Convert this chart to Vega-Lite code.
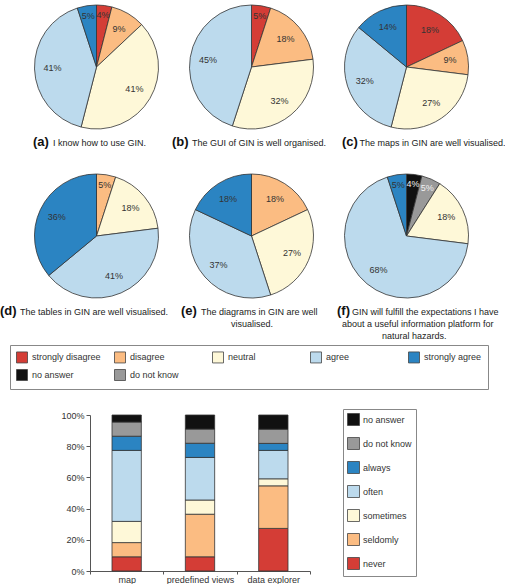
{
  "$schema": "https://vega.github.io/schema/vega-lite/v6.json",
  "padding": {"left": 0, "top": 3, "right": 0, "bottom": 0},
  "autosize": {"type": "pad"},
  "config": {
    "font": "Liberation Sans",
    "view": {"stroke": null},
    "title": {
      "orient": "bottom", "anchor": "start", "frame": "group",
      "fontSize": 13, "fontWeight": "bold", "color": "#111",
      "subtitleFontSize": 9, "subtitleColor": "#222", "subtitlePadding": -10,
      "subtitleLineHeight": 12, "offset": 5
    }
  },
  "datasets": {
    "pies": [
      {"q": "a", "answer": "strongly disagree", "p": 0.04, "k": 2},
      {"q": "a", "answer": "disagree", "p": 0.09, "k": 3},
      {"q": "a", "answer": "neutral", "p": 0.41, "k": 4},
      {"q": "a", "answer": "agree", "p": 0.41, "k": 5},
      {"q": "a", "answer": "strongly agree", "p": 0.05, "k": 6},
      {"q": "b", "answer": "strongly disagree", "p": 0.05, "k": 2},
      {"q": "b", "answer": "disagree", "p": 0.18, "k": 3},
      {"q": "b", "answer": "neutral", "p": 0.32, "k": 4},
      {"q": "b", "answer": "agree", "p": 0.45, "k": 5},
      {"q": "c", "answer": "strongly disagree", "p": 0.18, "k": 2},
      {"q": "c", "answer": "disagree", "p": 0.09, "k": 3},
      {"q": "c", "answer": "neutral", "p": 0.27, "k": 4},
      {"q": "c", "answer": "agree", "p": 0.32, "k": 5},
      {"q": "c", "answer": "strongly agree", "p": 0.14, "k": 6},
      {"q": "d", "answer": "disagree", "p": 0.05, "k": 3},
      {"q": "d", "answer": "neutral", "p": 0.18, "k": 4},
      {"q": "d", "answer": "agree", "p": 0.41, "k": 5},
      {"q": "d", "answer": "strongly agree", "p": 0.36, "k": 6},
      {"q": "e", "answer": "disagree", "p": 0.18, "k": 3},
      {"q": "e", "answer": "neutral", "p": 0.27, "k": 4},
      {"q": "e", "answer": "agree", "p": 0.37, "k": 5},
      {"q": "e", "answer": "strongly agree", "p": 0.18, "k": 6},
      {"q": "f", "answer": "no answer", "p": 0.04, "k": 0},
      {"q": "f", "answer": "do not know", "p": 0.05, "k": 1},
      {"q": "f", "answer": "neutral", "p": 0.18, "k": 4},
      {"q": "f", "answer": "agree", "p": 0.68, "k": 5},
      {"q": "f", "answer": "strongly agree", "p": 0.05, "k": 6}
    ],
    "bars": [
      {"tool": "map", "freq": "never", "pct": 9.1, "k": 0},
      {"tool": "map", "freq": "seldomly", "pct": 9.1, "k": 1},
      {"tool": "map", "freq": "sometimes", "pct": 13.6, "k": 2},
      {"tool": "map", "freq": "often", "pct": 45.5, "k": 3},
      {"tool": "map", "freq": "always", "pct": 9.1, "k": 4},
      {"tool": "map", "freq": "do not know", "pct": 9.1, "k": 5},
      {"tool": "map", "freq": "no answer", "pct": 4.5, "k": 6},
      {"tool": "predefined views", "freq": "never", "pct": 9.1, "k": 0},
      {"tool": "predefined views", "freq": "seldomly", "pct": 27.3, "k": 1},
      {"tool": "predefined views", "freq": "sometimes", "pct": 9.1, "k": 2},
      {"tool": "predefined views", "freq": "often", "pct": 27.3, "k": 3},
      {"tool": "predefined views", "freq": "always", "pct": 9.1, "k": 4},
      {"tool": "predefined views", "freq": "do not know", "pct": 9.1, "k": 5},
      {"tool": "predefined views", "freq": "no answer", "pct": 9.0, "k": 6},
      {"tool": "data explorer", "freq": "never", "pct": 27.3, "k": 0},
      {"tool": "data explorer", "freq": "seldomly", "pct": 27.3, "k": 1},
      {"tool": "data explorer", "freq": "sometimes", "pct": 4.5, "k": 2},
      {"tool": "data explorer", "freq": "often", "pct": 18.2, "k": 3},
      {"tool": "data explorer", "freq": "always", "pct": 4.5, "k": 4},
      {"tool": "data explorer", "freq": "do not know", "pct": 9.1, "k": 5},
      {"tool": "data explorer", "freq": "no answer", "pct": 9.1, "k": 6}
    ]
  },
  "vconcat": [
    {
      "vconcat": [
        {
          "hconcat": [
            {
              "width": 155, "height": 124,
              "data": {"name": "pies"},
              "transform": [{"filter": "datum.q == 'a'"}],
              "title": {"text": "(a)", "subtitle": "\u200b\u00a0\u00a0\u00a0\u00a0\u00a0\u00a0\u00a0\u00a0I know how to use GIN.", "dx": 14},
              "encoding": {
                "theta": {"field": "p", "type": "quantitative", "stack": true},
                "order": {"field": "k", "type": "quantitative"},
                "color": {"field": "answer", "type": "nominal",
                  "scale": {"domain": ["strongly disagree", "disagree", "neutral", "agree", "strongly agree", "no answer", "do not know"], "range": ["#d43d36", "#fbbc82", "#fef8d8", "#bcdaed", "#2b84c2", "#111111", "#999999"]},
                  "legend": {"orient": "none", "legendX": -9, "legendY": 340, "direction": "horizontal", "columns": 5, "gridAlign": "all", "columnPadding": 11, "rowPadding": 2, "title": null, "symbolType": "square", "symbolSize": 121, "symbolStrokeColor": "#444", "symbolStrokeWidth": 0.8, "padding": 6, "strokeColor": "#888", "labelFontSize": 9, "labelColor": "#333", "labelOffset": 4}}
              },
              "layer": [
                {"mark": {"type": "arc", "outerRadius": 62, "stroke": "#333", "strokeWidth": 0.8}},
                {"mark": {"type": "text", "radius": 44, "fontSize": 9},
                 "encoding": {"text": {"condition": {"test": "datum.p > 0.055", "field": "p", "type": "quantitative", "format": ".0%"}, "value": ""},
                   "color": {"condition": {"test": "datum.answer == 'no answer' || datum.answer == 'do not know'", "value": "#f2f2f2"}, "value": "#333"}}},
                {"mark": {"type": "text", "radius": 52, "fontSize": 9},
                 "encoding": {"text": {"condition": {"test": "datum.p <= 0.055", "field": "p", "type": "quantitative", "format": ".0%"}, "value": ""},
                   "color": {"condition": {"test": "datum.answer == 'no answer' || datum.answer == 'do not know'", "value": "#f2f2f2"}, "value": "#333"}}}
              ]
            },
            {
              "width": 155, "height": 124,
              "data": {"name": "pies"},
              "transform": [{"filter": "datum.q == 'b'"}],
              "title": {"text": "(b)", "subtitle": "\u200b\u00a0\u00a0\u00a0\u00a0\u00a0\u00a0\u00a0\u00a0The GUI of GIN is well organised.", "dx": -2},
              "encoding": {
                "theta": {"field": "p", "type": "quantitative", "stack": true},
                "order": {"field": "k", "type": "quantitative"},
                "color": {"field": "answer", "type": "nominal",
                  "scale": {"domain": ["strongly disagree", "disagree", "neutral", "agree", "strongly agree", "no answer", "do not know"], "range": ["#d43d36", "#fbbc82", "#fef8d8", "#bcdaed", "#2b84c2", "#111111", "#999999"]},
                  "legend": {"orient": "none", "legendX": -9, "legendY": 340, "direction": "horizontal", "columns": 5, "gridAlign": "all", "columnPadding": 11, "rowPadding": 2, "title": null, "symbolType": "square", "symbolSize": 121, "symbolStrokeColor": "#444", "symbolStrokeWidth": 0.8, "padding": 6, "strokeColor": "#888", "labelFontSize": 9, "labelColor": "#333", "labelOffset": 4}}
              },
              "layer": [
                {"mark": {"type": "arc", "outerRadius": 62, "stroke": "#333", "strokeWidth": 0.8}},
                {"mark": {"type": "text", "radius": 44, "fontSize": 9},
                 "encoding": {"text": {"condition": {"test": "datum.p > 0.055", "field": "p", "type": "quantitative", "format": ".0%"}, "value": ""},
                   "color": {"condition": {"test": "datum.answer == 'no answer' || datum.answer == 'do not know'", "value": "#f2f2f2"}, "value": "#333"}}},
                {"mark": {"type": "text", "radius": 52, "fontSize": 9},
                 "encoding": {"text": {"condition": {"test": "datum.p <= 0.055", "field": "p", "type": "quantitative", "format": ".0%"}, "value": ""},
                   "color": {"condition": {"test": "datum.answer == 'no answer' || datum.answer == 'do not know'", "value": "#f2f2f2"}, "value": "#333"}}}
              ]
            },
            {
              "width": 155, "height": 124,
              "data": {"name": "pies"},
              "transform": [{"filter": "datum.q == 'c'"}],
              "title": {"text": "(c)", "subtitle": "\u200b\u00a0\u00a0\u00a0\u00a0\u00a0\u00a0\u00a0The maps in GIN are well visualised.", "dx": 13},
              "encoding": {
                "theta": {"field": "p", "type": "quantitative", "stack": true},
                "order": {"field": "k", "type": "quantitative"},
                "color": {"field": "answer", "type": "nominal",
                  "scale": {"domain": ["strongly disagree", "disagree", "neutral", "agree", "strongly agree", "no answer", "do not know"], "range": ["#d43d36", "#fbbc82", "#fef8d8", "#bcdaed", "#2b84c2", "#111111", "#999999"]},
                  "legend": {"orient": "none", "legendX": -9, "legendY": 340, "direction": "horizontal", "columns": 5, "gridAlign": "all", "columnPadding": 11, "rowPadding": 2, "title": null, "symbolType": "square", "symbolSize": 121, "symbolStrokeColor": "#444", "symbolStrokeWidth": 0.8, "padding": 6, "strokeColor": "#888", "labelFontSize": 9, "labelColor": "#333", "labelOffset": 4}}
              },
              "layer": [
                {"mark": {"type": "arc", "outerRadius": 62, "stroke": "#333", "strokeWidth": 0.8}},
                {"mark": {"type": "text", "radius": 44, "fontSize": 9},
                 "encoding": {"text": {"condition": {"test": "datum.p > 0.055", "field": "p", "type": "quantitative", "format": ".0%"}, "value": ""},
                   "color": {"condition": {"test": "datum.answer == 'no answer' || datum.answer == 'do not know'", "value": "#f2f2f2"}, "value": "#333"}}},
                {"mark": {"type": "text", "radius": 52, "fontSize": 9},
                 "encoding": {"text": {"condition": {"test": "datum.p <= 0.055", "field": "p", "type": "quantitative", "format": ".0%"}, "value": ""},
                   "color": {"condition": {"test": "datum.answer == 'no answer' || datum.answer == 'do not know'", "value": "#f2f2f2"}, "value": "#333"}}}
              ]
            }
          ],
          "spacing": 0, "bounds": "flush"
        },
        {
          "hconcat": [
            {
              "width": 155, "height": 124,
              "data": {"name": "pies"},
              "transform": [{"filter": "datum.q == 'd'"}],
              "title": {"text": "(d)", "subtitle": "\u200b\u00a0\u00a0\u00a0\u00a0\u00a0\u00a0\u00a0\u00a0The tables in GIN are well visualised.", "dx": -19},
              "encoding": {
                "theta": {"field": "p", "type": "quantitative", "stack": true},
                "order": {"field": "k", "type": "quantitative"},
                "color": {"field": "answer", "type": "nominal",
                  "scale": {"domain": ["strongly disagree", "disagree", "neutral", "agree", "strongly agree", "no answer", "do not know"], "range": ["#d43d36", "#fbbc82", "#fef8d8", "#bcdaed", "#2b84c2", "#111111", "#999999"]},
                  "legend": {"orient": "none", "legendX": -9, "legendY": 340, "direction": "horizontal", "columns": 5, "gridAlign": "all", "columnPadding": 11, "rowPadding": 2, "title": null, "symbolType": "square", "symbolSize": 121, "symbolStrokeColor": "#444", "symbolStrokeWidth": 0.8, "padding": 6, "strokeColor": "#888", "labelFontSize": 9, "labelColor": "#333", "labelOffset": 4}}
              },
              "layer": [
                {"mark": {"type": "arc", "outerRadius": 62, "stroke": "#333", "strokeWidth": 0.8}},
                {"mark": {"type": "text", "radius": 44, "fontSize": 9},
                 "encoding": {"text": {"condition": {"test": "datum.p > 0.055", "field": "p", "type": "quantitative", "format": ".0%"}, "value": ""},
                   "color": {"condition": {"test": "datum.answer == 'no answer' || datum.answer == 'do not know'", "value": "#f2f2f2"}, "value": "#333"}}},
                {"mark": {"type": "text", "radius": 52, "fontSize": 9},
                 "encoding": {"text": {"condition": {"test": "datum.p <= 0.055", "field": "p", "type": "quantitative", "format": ".0%"}, "value": ""},
                   "color": {"condition": {"test": "datum.answer == 'no answer' || datum.answer == 'do not know'", "value": "#f2f2f2"}, "value": "#333"}}}
              ]
            },
            {
              "width": 155, "height": 124,
              "data": {"name": "pies"},
              "transform": [{"filter": "datum.q == 'e'"}],
              "title": {"text": "(e)", "subtitle": ["\u200b\u00a0\u00a0\u00a0\u00a0\u00a0\u00a0\u00a0\u00a0The diagrams in GIN are well", "\u200b\u00a0\u00a0\u00a0\u00a0\u00a0\u00a0\u00a0\u00a0\u00a0\u00a0\u00a0\u00a0\u00a0\u00a0\u00a0\u00a0\u00a0\u00a0\u00a0\u00a0visualised."], "dx": 7},
              "encoding": {
                "theta": {"field": "p", "type": "quantitative", "stack": true},
                "order": {"field": "k", "type": "quantitative"},
                "color": {"field": "answer", "type": "nominal",
                  "scale": {"domain": ["strongly disagree", "disagree", "neutral", "agree", "strongly agree", "no answer", "do not know"], "range": ["#d43d36", "#fbbc82", "#fef8d8", "#bcdaed", "#2b84c2", "#111111", "#999999"]},
                  "legend": {"orient": "none", "legendX": -9, "legendY": 340, "direction": "horizontal", "columns": 5, "gridAlign": "all", "columnPadding": 11, "rowPadding": 2, "title": null, "symbolType": "square", "symbolSize": 121, "symbolStrokeColor": "#444", "symbolStrokeWidth": 0.8, "padding": 6, "strokeColor": "#888", "labelFontSize": 9, "labelColor": "#333", "labelOffset": 4}}
              },
              "layer": [
                {"mark": {"type": "arc", "outerRadius": 62, "stroke": "#333", "strokeWidth": 0.8}},
                {"mark": {"type": "text", "radius": 44, "fontSize": 9},
                 "encoding": {"text": {"condition": {"test": "datum.p > 0.055", "field": "p", "type": "quantitative", "format": ".0%"}, "value": ""},
                   "color": {"condition": {"test": "datum.answer == 'no answer' || datum.answer == 'do not know'", "value": "#f2f2f2"}, "value": "#333"}}},
                {"mark": {"type": "text", "radius": 52, "fontSize": 9},
                 "encoding": {"text": {"condition": {"test": "datum.p <= 0.055", "field": "p", "type": "quantitative", "format": ".0%"}, "value": ""},
                   "color": {"condition": {"test": "datum.answer == 'no answer' || datum.answer == 'do not know'", "value": "#f2f2f2"}, "value": "#333"}}}
              ]
            },
            {
              "width": 155, "height": 124,
              "data": {"name": "pies"},
              "transform": [{"filter": "datum.q == 'f'"}],
              "title": {"text": "(f)", "subtitle": ["\u200b\u00a0\u00a0\u00a0\u00a0\u00a0\u00a0GIN will fulfill the expectations I have", "\u200b\u00a0\u00a0about a useful information platform for", "\u200b\u00a0\u00a0\u00a0\u00a0\u00a0\u00a0\u00a0\u00a0\u00a0\u00a0\u00a0\u00a0\u00a0\u00a0\u00a0\u00a0\u00a0\u00a0natural hazards."], "dx": 8},
              "encoding": {
                "theta": {"field": "p", "type": "quantitative", "stack": true},
                "order": {"field": "k", "type": "quantitative"},
                "color": {"field": "answer", "type": "nominal",
                  "scale": {"domain": ["strongly disagree", "disagree", "neutral", "agree", "strongly agree", "no answer", "do not know"], "range": ["#d43d36", "#fbbc82", "#fef8d8", "#bcdaed", "#2b84c2", "#111111", "#999999"]},
                  "legend": {"orient": "none", "legendX": -9, "legendY": 340, "direction": "horizontal", "columns": 5, "gridAlign": "all", "columnPadding": 11, "rowPadding": 2, "title": null, "symbolType": "square", "symbolSize": 121, "symbolStrokeColor": "#444", "symbolStrokeWidth": 0.8, "padding": 6, "strokeColor": "#888", "labelFontSize": 9, "labelColor": "#333", "labelOffset": 4}}
              },
              "layer": [
                {"mark": {"type": "arc", "outerRadius": 62, "stroke": "#333", "strokeWidth": 0.8}},
                {"mark": {"type": "text", "radius": 44, "fontSize": 9},
                 "encoding": {"text": {"condition": {"test": "datum.p > 0.055", "field": "p", "type": "quantitative", "format": ".0%"}, "value": ""},
                   "color": {"condition": {"test": "datum.answer == 'no answer' || datum.answer == 'do not know'", "value": "#f2f2f2"}, "value": "#333"}}},
                {"mark": {"type": "text", "radius": 52, "fontSize": 9},
                 "encoding": {"text": {"condition": {"test": "datum.p <= 0.055", "field": "p", "type": "quantitative", "format": ".0%"}, "value": ""},
                   "color": {"condition": {"test": "datum.answer == 'no answer' || datum.answer == 'do not know'", "value": "#f2f2f2"}, "value": "#333"}}}
              ]
            }
          ],
          "spacing": 0, "bounds": "flush"
        }
      ],
      "spacing": 23, "bounds": "full"
    },
    {
      "width": 291, "height": 156,
      "data": {"name": "bars"},
      "mark": {"type": "bar", "width": {"band": 0.4}, "stroke": "#333", "strokeWidth": 0.8},
      "encoding": {
        "x": {"field": "tool", "type": "nominal", "sort": ["map", "predefined views", "data explorer"],
          "scale": {"paddingInner": 0, "paddingOuter": 0, "range": [71, 291]},
          "axis": {"title": null, "labelAngle": 0, "tickBand": "extent", "tickSize": 3, "labelPadding": 1, "labelFontSize": 9, "labelColor": "#333", "domainColor": "#555", "tickColor": "#555"}},
        "y": {"field": "pct", "type": "quantitative", "stack": "zero", "scale": {"domain": [0, 100]},
          "axis": {"title": null, "values": [0, 20, 40, 60, 80, 100], "labelExpr": "datum.value + '%'", "grid": false, "offset": -71, "tickSize": 4, "labelPadding": 2, "labelFontSize": 9, "labelColor": "#333", "domainColor": "#555", "tickColor": "#555"}},
        "order": {"field": "k", "type": "quantitative"},
        "color": {"field": "freq", "type": "nominal",
          "scale": {"domain": ["no answer", "do not know", "always", "often", "sometimes", "seldomly", "never"], "range": ["#111111", "#999999", "#2b84c2", "#bcdaed", "#fef8d8", "#fbbc82", "#d43d36"]},
          "legend": {"orient": "none", "legendX": 324, "legendY": -6, "title": null, "symbolType": "square", "symbolSize": 144, "symbolStrokeColor": "#444", "symbolStrokeWidth": 0.8, "rowPadding": 7, "padding": 4, "strokeColor": "#888", "labelFontSize": 9, "labelColor": "#333", "labelOffset": 3}}
      }
    }
  ],
  "spacing": 18,
  "bounds": "full",
  "resolve": {"scale": {"color": "independent"}}
}
